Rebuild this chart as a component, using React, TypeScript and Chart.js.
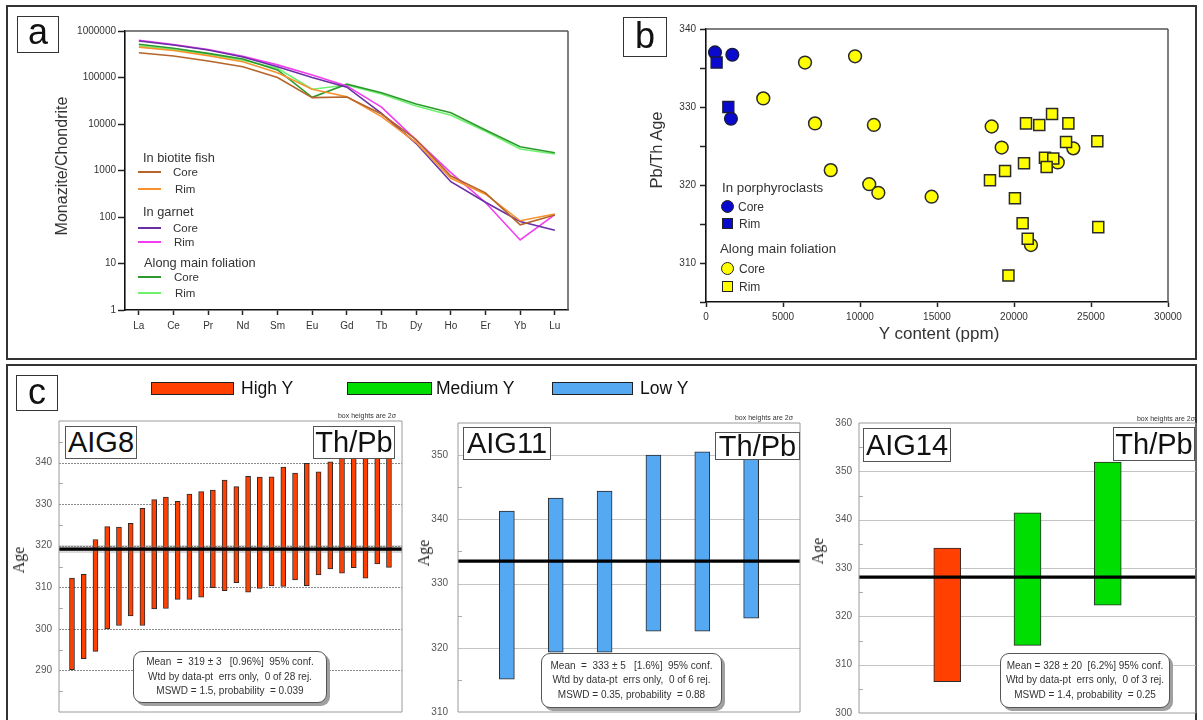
import React, { useEffect, useRef } from 'react';
import { Chart, registerables } from 'chart.js';

Chart.register(...registerables);

const SANS = "'Liberation Sans', Arial, Helvetica, sans-serif";
const SERIF = "'Liberation Serif', 'Times New Roman', serif";

// ---------------- Panel a : REE patterns ----------------
const REE = ['La', 'Ce', 'Pr', 'Nd', 'Sm', 'Eu', 'Gd', 'Tb', 'Dy', 'Ho', 'Er', 'Yb', 'Lu'];
const Y_LOG_TICKS = [1, 10, 100, 1000, 10000, 100000, 1000000];
const BIOTITE_CORE = [340000, 290000, 226000, 170000, 100000, 37000, 38000, 16400, 4600, 760, 330, 68, 110];
const BIOTITE_RIM = [450000, 380000, 295000, 218000, 127000, 56000, 38500, 14400, 4000, 680, 310, 83, 116];
const GARNET_CORE = [610000, 500000, 390000, 275000, 170000, 100000, 62000, 17000, 3800, 575, 207, 80, 52];
const GARNET_RIM = [630000, 510000, 400000, 285000, 187000, 113000, 66000, 23000, 4500, 900, 205, 32, 112];
const FOLIATION_CORE = [520000, 425000, 330000, 250000, 145000, 37500, 72000, 47000, 27000, 17500, 7400, 3240, 2400];
const FOLIATION_RIM = [480000, 400000, 315000, 235000, 158000, 56000, 69000, 44000, 24500, 15500, 7000, 2900, 2260];

// ---------------- Panel b : Pb/Th age vs Y ----------------
const PORPH_CORE_X = [584, 1710, 1620];
const PORPH_CORE_Y = [337.0, 336.7, 328.5];
const PORPH_RIM_X = [690, 1450];
const PORPH_RIM_Y = [335.7, 330.0];
const FOL_CORE_X = [3720, 6430, 9680, 7080, 10900, 8100, 10600, 11190, 14650, 18550, 19200, 23850, 22840, 21100];
const FOL_CORE_Y = [331.1, 335.7, 336.5, 327.9, 327.7, 321.9, 320.1, 319.0, 318.5, 327.5, 324.8, 324.7, 322.9, 312.3];
const FOL_RIM_X = [20780, 21640, 22470, 23530, 23380, 25410, 22010, 22550, 22120, 20650, 19420, 18440, 20060, 20560, 25470, 20890, 19640];
const FOL_RIM_Y = [327.9, 327.7, 329.1, 327.9, 325.5, 325.6, 323.5, 323.4, 322.3, 322.8, 321.8, 320.6, 318.3, 315.1, 314.6, 313.1, 308.4];

// ---------------- Panel c : weighted mean ages ----------------
const AIG8_LOW = [290.2, 292.8, 294.6, 300.0, 300.8, 303.1, 300.8, 304.8, 304.9, 307.1, 307.1, 307.6, 309.9, 309.2, 311.1, 308.8, 309.7, 310.3, 310.2, 311.8, 310.4, 313.0, 314.4, 313.4, 314.7, 312.2, 315.6, 314.8];
const AIG8_HIGH = [312.2, 313.1, 321.5, 324.6, 324.5, 325.4, 329.0, 331.1, 331.7, 330.7, 332.4, 333.0, 333.4, 335.8, 334.2, 336.7, 336.5, 336.6, 338.9, 337.5, 339.8, 337.8, 340.2, 343.0, 345.0, 344.0, 346.0, 345.0];
const AIG8_MEAN = 319.2;
const AIG11_LOW = [315.1, 319.3, 319.3, 322.6, 322.6, 324.6];
const AIG11_HIGH = [341.3, 343.3, 344.4, 350.0, 350.5, 352.0];
const AIG11_MEAN = 333.5;
const AIG14_LOW = [306.5, 314.0, 322.3];
const AIG14_HIGH = [334.1, 341.4, 351.9];
const AIG14_GROUP = ['High Y', 'Medium Y', 'Medium Y'];
const AIG14_MEAN = 328.1;
const GROUP_COLORS: Record<string, string> = { 'High Y': '#FF4000', 'Medium Y': '#00DD00', 'Low Y': '#55A8F2' };

// ---------------- plugins ----------------
const framePlugin = {
  id: 'frame',
  afterDatasetsDraw(chart: any, _a: any, opts: any) {
    if (!opts || !opts.color) return;
    const { left, top, right, bottom } = chart.chartArea;
    const ctx = chart.ctx;
    ctx.save();
    ctx.strokeStyle = opts.color;
    ctx.lineWidth = opts.width || 1;
    ctx.beginPath();
    const sides: string[] = opts.sides || ['top', 'right', 'bottom', 'left'];
    if (sides.includes('top')) { ctx.moveTo(left, top); ctx.lineTo(right, top); }
    if (sides.includes('right')) { ctx.moveTo(right, top); ctx.lineTo(right, bottom); }
    if (sides.includes('bottom')) { ctx.moveTo(left, bottom); ctx.lineTo(right, bottom); }
    if (sides.includes('left')) { ctx.moveTo(left, top); ctx.lineTo(left, bottom); }
    ctx.stroke();
    ctx.restore();
  },
};

const hGridPlugin = {
  id: 'hgrid',
  beforeDatasetsDraw(chart: any, _a: any, opts: any) {
    if (!opts || !opts.values) return;
    const { left, right } = chart.chartArea;
    const ctx = chart.ctx;
    const ys = chart.scales.y;
    ctx.save();
    ctx.strokeStyle = opts.color || '#bbb';
    ctx.lineWidth = 1;
    ctx.setLineDash(opts.dash || []);
    for (const v of opts.values) {
      const y = Math.round(ys.getPixelForValue(v)) + 0.5;
      ctx.beginPath();
      ctx.moveTo(left, y);
      ctx.lineTo(right, y);
      ctx.stroke();
    }
    ctx.setLineDash([]);
    ctx.strokeStyle = opts.minorColor || '#999';
    for (const v of opts.minor || []) {
      const y = Math.round(ys.getPixelForValue(v)) + 0.5;
      ctx.beginPath();
      ctx.moveTo(left, y);
      ctx.lineTo(left + 4, y);
      ctx.stroke();
    }
    ctx.restore();
  },
};

const meanLinePlugin = {
  id: 'meanLine',
  afterDatasetsDraw(chart: any, _a: any, opts: any) {
    if (!opts || opts.value == null) return;
    const { left, right } = chart.chartArea;
    const ctx = chart.ctx;
    const y = chart.scales.y.getPixelForValue(opts.value);
    ctx.save();
    if (opts.halo) {
      ctx.fillStyle = 'rgba(120,120,120,0.28)';
      ctx.fillRect(left, y - 4, right - left, 8);
    }
    ctx.strokeStyle = '#000';
    ctx.lineWidth = opts.width || 3;
    ctx.beginPath();
    ctx.moveTo(left, y);
    ctx.lineTo(right, y);
    ctx.stroke();
    ctx.restore();
  },
};

// ---------------- geometry helper ----------------
type Geo = { cl: number; ct: number; cw: number; ch: number; pl: number; pt: number; pr: number; pb: number };

function ChartCanvas({ geo, make }: { geo: Geo; make: (g: Geo) => any }) {
  const ref = useRef<HTMLCanvasElement>(null);
  useEffect(() => {
    const chart = new Chart(ref.current as HTMLCanvasElement, make(geo));
    return () => chart.destroy();
  }, []);
  return (
    <canvas
      ref={ref}
      width={geo.cw}
      height={geo.ch}
      style={{ position: 'absolute', left: geo.cl, top: geo.ct, width: geo.cw, height: geo.ch }}
    />
  );
}

const GEO_A: Geo = { cl: 8, ct: 8, cw: 590, ch: 345, pl: 125, pt: 31, pr: 568, pb: 310 };
const GEO_B: Geo = { cl: 600, ct: 8, cw: 594, ch: 345, pl: 706, pt: 29, pr: 1168, pb: 302 };
const GEO_C1: Geo = { cl: 9, ct: 368, cw: 400, ch: 372, pl: 59, pt: 421, pr: 402, pb: 712 };
const GEO_C2: Geo = { cl: 410, ct: 368, cw: 395, ch: 372, pl: 458, pt: 423, pr: 800, pb: 712 };
const GEO_C3: Geo = { cl: 808, ct: 368, cw: 392, ch: 372, pl: 859, pt: 423, pr: 1196, pb: 713 };

const tickFont = (size: number) => ({ family: SANS, size });

function makeA(g: Geo) {
  const series = [
    { data: BIOTITE_CORE, color: '#B5652A' },
    { data: BIOTITE_RIM, color: '#F7922E' },
    { data: GARNET_CORE, color: '#6B2FA5' },
    { data: GARNET_RIM, color: '#F23CF2' },
    { data: FOLIATION_CORE, color: '#2E9A2E' },
    { data: FOLIATION_RIM, color: '#6EF26E' },
  ];
  return {
    type: 'line',
    data: {
      datasets: series.map((s) => ({
        data: s.data.map((v, i) => ({ x: i, y: v })),
        borderColor: s.color,
        borderWidth: 1.6,
        pointRadius: 0,
        tension: 0,
        fill: false,
      })),
    },
    options: {
      animation: false,
      responsive: false,
      events: [],
      layout: { padding: { left: 0, top: g.pt - g.ct, right: g.cl + g.cw - g.pr, bottom: 0 } },
      plugins: {
        legend: { display: false },
        tooltip: { enabled: false },
        frame: { color: '#555', width: 1.5, sides: ['top', 'right'] },
      },
      scales: {
        x: {
          type: 'linear',
          min: -0.4,
          max: 12.38,
          offset: false,
          afterFit: (s: any) => { s.height = g.ct + g.ch - g.pb; },
          afterBuildTicks: (s: any) => { s.ticks = REE.map((_, i) => ({ value: i })); },
          ticks: { callback: (v: any) => REE[v], font: tickFont(10), color: '#333', padding: 5, maxRotation: 0, autoSkip: false },
          grid: { drawOnChartArea: false, tickLength: 5, color: '#222', tickWidth: 1.5 },
          border: { color: '#111', width: 1.6 },
        },
        y: {
          type: 'logarithmic',
          min: 1,
          max: 1000000,
          afterFit: (s: any) => { s.width = g.pl - g.cl; },
          afterBuildTicks: (s: any) => { s.ticks = Y_LOG_TICKS.map((v) => ({ value: v })); },
          ticks: { callback: (v: any) => String(v), font: tickFont(10), color: '#333', padding: 2 },
          grid: { drawOnChartArea: false, tickLength: 7, color: '#222', tickWidth: 1.5 },
          border: { color: '#111', width: 1.6 },
        },
      },
    },
    plugins: [framePlugin],
  };
}

const zip = (xs: number[], ys: number[]) => xs.map((x, i) => ({ x, y: ys[i] }));

function makeB(g: Geo) {
  const rect = 7.8;
  const circ = 6.4;
  return {
    type: 'scatter',
    data: {
      datasets: [
        { label: 'Rim (porphyroclasts)', data: zip(PORPH_RIM_X, PORPH_RIM_Y), pointStyle: 'rect', pointRadius: rect, backgroundColor: '#0A0ACF', borderColor: '#1a1a3a', borderWidth: 1.3 },
        { label: 'Core (porphyroclasts)', data: zip(PORPH_CORE_X, PORPH_CORE_Y), pointStyle: 'circle', pointRadius: circ, backgroundColor: '#0A0ACF', borderColor: '#1a1a3a', borderWidth: 1.3 },
        { label: 'Rim (foliation)', data: zip(FOL_RIM_X, FOL_RIM_Y), pointStyle: 'rect', pointRadius: rect, backgroundColor: '#FFFF00', borderColor: '#2a2a2a', borderWidth: 1.5 },
        { label: 'Core (foliation)', data: zip(FOL_CORE_X, FOL_CORE_Y), pointStyle: 'circle', pointRadius: circ, backgroundColor: '#FFFF00', borderColor: '#2a2a2a', borderWidth: 1.5 },
      ],
    },
    options: {
      animation: false,
      responsive: false,
      events: [],
      layout: { padding: { left: 0, top: g.pt - g.ct, right: g.cl + g.cw - g.pr, bottom: 0 } },
      plugins: {
        legend: { display: false },
        tooltip: { enabled: false },
        frame: { color: '#555', width: 1.5, sides: ['top', 'right'] },
      },
      scales: {
        x: {
          type: 'linear',
          min: 0,
          max: 30000,
          afterFit: (s: any) => { s.height = g.ct + g.ch - g.pb; },
          ticks: { stepSize: 5000, callback: (v: any) => String(v), font: tickFont(10), color: '#333', padding: 4, maxRotation: 0 },
          grid: { drawOnChartArea: false, tickLength: 5, color: '#222', tickWidth: 1.5 },
          border: { color: '#111', width: 1.6 },
        },
        y: {
          type: 'linear',
          min: 305,
          max: 340,
          afterFit: (s: any) => { s.width = g.pl - g.cl; },
          ticks: { stepSize: 5, callback: (v: any) => (v % 10 === 0 ? String(v) : ''), font: tickFont(10), color: '#333', padding: 4 },
          grid: { drawOnChartArea: false, tickLength: 6, color: '#222', tickWidth: 1.5 },
          border: { color: '#111', width: 1.6 },
        },
      },
    },
    plugins: [framePlugin],
  };
}

function makeAge(
  lows: number[], highs: number[], colors: string[], xmin: number, xmax: number,
  ymin: number, ymax: number, barW: number, mean: number, shown: number[], dashed: boolean, labelPad: number, halo: boolean,
) {
  return (g: Geo) => {
    const major: number[] = [];
    const minor: number[] = [];
    for (let v = ymin; v <= ymax; v += 5) {
      if (v === ymin || v === ymax) continue;
      if (v % 10 === 0) major.push(v); else minor.push(v);
    }
    return {
      type: 'bar',
      data: {
        datasets: [{
          data: lows.map((lo, i) => ({ x: i + 1, y: [lo, highs[i]] })),
          backgroundColor: colors,
          borderColor: '#2a2a2a',
          borderWidth: 1,
          borderSkipped: false,
          barThickness: barW,
        }],
      },
      options: {
        animation: false,
        responsive: false,
        events: [],
        layout: { padding: { left: 0, top: g.pt - g.ct, right: g.cl + g.cw - g.pr, bottom: g.ct + g.ch - g.pb } },
        plugins: {
          legend: { display: false },
          tooltip: { enabled: false },
          frame: { color: '#9a9a9a', width: 1 },
          hgrid: { values: major, minor, color: dashed ? '#8a8a8a' : '#c4c4c4', dash: dashed ? [2, 1] : [], minorColor: '#aaa' },
          meanLine: { value: mean, width: 3.2, halo },
        },
        scales: {
          x: { type: 'linear', display: false, min: xmin, max: xmax, offset: false },
          y: {
            type: 'linear',
            min: ymin,
            max: ymax,
            afterFit: (s: any) => { s.width = g.pl - g.cl; },
            ticks: { stepSize: 10, callback: (v: any) => (shown.includes(v) ? String(v) : ''), font: tickFont(10), color: '#555', padding: labelPad },
            grid: { display: false, drawTicks: false },
            border: { display: false },
          },
        },
      },
      plugins: [hGridPlugin, meanLinePlugin, framePlugin],
    };
  };
}

const makeC1 = makeAge(AIG8_LOW, AIG8_HIGH, AIG8_LOW.map(() => GROUP_COLORS['High Y']), -0.107, 29.11, 280, 350, 5, AIG8_MEAN, [290, 300, 310, 320, 330, 340], true, 7, true);
const makeC2 = makeAge(AIG11_LOW, AIG11_HIGH, AIG11_LOW.map(() => GROUP_COLORS['Low Y']), 0, 7, 310, 355, 15, AIG11_MEAN, [310, 320, 330, 340, 350], false, 10, false);
const makeC3 = makeAge(AIG14_LOW, AIG14_HIGH, AIG14_GROUP.map((gname) => GROUP_COLORS[gname]), -0.1, 4.1, 300, 360, 27, AIG14_MEAN, [300, 310, 320, 330, 340, 350, 360], false, 7, false);

// ---------------- HTML helpers ----------------
type TxtProps = { x: number; y: number; size: number; children: React.ReactNode; anchor?: 'left' | 'right' | 'center'; family?: string; color?: string; rotate?: boolean };
function Txt({ x, y, size, children, anchor = 'left', family = SANS, color = '#222', rotate = false }: TxtProps) {
  let tf = anchor === 'left' ? 'translate(0,-50%)' : anchor === 'right' ? 'translate(-100%,-50%)' : 'translate(-50%,-50%)';
  if (rotate) tf = 'translate(-50%,-50%) rotate(-90deg)';
  return (
    <div style={{ position: 'absolute', left: x, top: y, transform: tf, fontSize: size, lineHeight: 1, whiteSpace: 'pre', fontFamily: family, color }}>
      {children}
    </div>
  );
}

function Box({ x, y, w, h, size, text, border = '1.5px solid #333', pad = 0 }: { x: number; y: number; w: number; h: number; size: number; text: string; border?: string; pad?: number }) {
  return (
    <div style={{ position: 'absolute', left: x, top: y, width: w, height: h, boxSizing: 'border-box', border, background: '#fff', display: 'flex', alignItems: 'center', justifyContent: 'center', fontFamily: SANS, fontSize: size, lineHeight: 1, color: '#111', paddingBottom: pad }}>
      {text}
    </div>
  );
}

function LegendLine({ x, y, color }: { x: number; y: number; color: string }) {
  return <div style={{ position: 'absolute', left: x, top: y - 1, width: 23, height: 2, background: color }} />;
}

function Marker({ x, y, shape, color }: { x: number; y: number; shape: 'circle' | 'square'; color: string }) {
  const s = shape === 'circle' ? 13 : 11;
  return (
    <div style={{ position: 'absolute', left: x - s / 2, top: y - s / 2, width: s, height: s, boxSizing: 'border-box', border: '1.5px solid #222', background: color, borderRadius: shape === 'circle' ? '50%' : 0 }} />
  );
}

function StatBox({ x, y, w, h, lines }: { x: number; y: number; w: number; h: number; lines: string[] }) {
  return (
    <div style={{ position: 'absolute', left: x, top: y, width: w, height: h, boxSizing: 'border-box', border: '1.5px solid #555', borderRadius: 9, background: '#fff', boxShadow: '3px 3px 0 #a0a0a0', display: 'flex', flexDirection: 'column', justifyContent: 'center', alignItems: 'center', fontFamily: SANS, fontSize: 10, color: '#333', lineHeight: '14.5px', whiteSpace: 'pre' }}>
      {lines.map((l, i) => <div key={i}>{l}</div>)}
    </div>
  );
}

function Swatch({ x, y, w, color }: { x: number; y: number; w: number; color: string }) {
  return <div style={{ position: 'absolute', left: x, top: y, width: w, height: 13, boxSizing: 'border-box', border: '1.5px solid #222', background: color }} />;
}

export default function App() {
  return (
    <div style={{ position: 'absolute', left: 0, top: 0, width: 1203, height: 720, overflow: 'hidden', background: '#fff', fontFamily: SANS }}>
      {/* frames */}
      <div style={{ position: 'absolute', left: 6, top: 5, width: 1191, height: 355, border: '2px solid #333', boxSizing: 'border-box' }} />
      <div style={{ position: 'absolute', left: 6, top: 364, width: 1191, height: 380, border: '2px solid #333', boxSizing: 'border-box' }} />

      <ChartCanvas geo={GEO_A} make={makeA} />
      <ChartCanvas geo={GEO_B} make={makeB} />
      <ChartCanvas geo={GEO_C1} make={makeC1} />
      <ChartCanvas geo={GEO_C2} make={makeC2} />
      <ChartCanvas geo={GEO_C3} make={makeC3} />

      {/* panel a */}
      <Box x={17} y={16} w={42} h={37} size={36} text="a" pad={5} />
      <Txt x={62} y={166} size={16} rotate color="#333">Monazite/Chondrite</Txt>
      <Txt x={143} y={158} size={12.8} color="#333">In biotite fish</Txt>
      <LegendLine x={138} y={172} color="#B5652A" />
      <Txt x={173} y={173} size={11.5} color="#333">Core</Txt>
      <LegendLine x={138} y={189} color="#F7922E" />
      <Txt x={175} y={190} size={11.5} color="#333">Rim</Txt>
      <Txt x={143} y={212} size={12.8} color="#333">In garnet</Txt>
      <LegendLine x={138} y={228} color="#6B2FA5" />
      <Txt x={173} y={229} size={11.5} color="#333">Core</Txt>
      <LegendLine x={138} y={242} color="#F23CF2" />
      <Txt x={174} y={243} size={11.5} color="#333">Rim</Txt>
      <Txt x={144} y={263} size={12.8} color="#333">Along main foliation</Txt>
      <LegendLine x={138} y={277} color="#2E9A2E" />
      <Txt x={174} y={278} size={11.5} color="#333">Core</Txt>
      <LegendLine x={138} y={293} color="#6EF26E" />
      <Txt x={175} y={294} size={11.5} color="#333">Rim</Txt>

      {/* panel b */}
      <Box x={623} y={17} w={44} h={40} size={36} text="b" pad={2} />
      <Txt x={656} y={150} size={16.5} rotate color="#333">Pb/Th Age</Txt>
      <Txt x={939} y={333} size={17} anchor="center" color="#333">Y content (ppm)</Txt>
      <Txt x={722} y={188} size={13.3} color="#333">In porphyroclasts</Txt>
      <Marker x={727} y={206} shape="circle" color="#0A0ACF" />
      <Txt x={738} y={207} size={12} color="#333">Core</Txt>
      <Marker x={727} y={223} shape="square" color="#0A0ACF" />
      <Txt x={739} y={224} size={12} color="#333">Rim</Txt>
      <Txt x={720} y={249} size={13.3} color="#333">Along main foliation</Txt>
      <Marker x={727} y={268} shape="circle" color="#FFFF00" />
      <Txt x={739} y={269} size={12} color="#333">Core</Txt>
      <Marker x={727} y={286} shape="square" color="#FFFF00" />
      <Txt x={739} y={287} size={12} color="#333">Rim</Txt>

      {/* panel c */}
      <Box x={16} y={375} w={42} h={36} size={36} text="c" pad={3} />
      <Swatch x={151} y={382} w={83} color={GROUP_COLORS['High Y']} />
      <Txt x={241} y={389} size={17.5} color="#111">High Y</Txt>
      <Swatch x={347} y={382} w={85} color={GROUP_COLORS['Medium Y']} />
      <Txt x={436} y={389} size={17.5} color="#111">Medium Y</Txt>
      <Swatch x={552} y={382} w={81} color={GROUP_COLORS['Low Y']} />
      <Txt x={640} y={389} size={17.5} color="#111">Low Y</Txt>

      <Txt x={19} y={560} size={16} rotate family={SERIF} color="#222">Age</Txt>
      <Txt x={424} y={553} size={16} rotate family={SERIF} color="#222">Age</Txt>
      <Txt x={818} y={551} size={16} rotate family={SERIF} color="#222">Age</Txt>

      <Txt x={396} y={415} size={7} anchor="right" color="#333">box heights are 2σ</Txt>
      <Txt x={793} y={417} size={7} anchor="right" color="#333">box heights are 2σ</Txt>
      <Txt x={1195} y={418} size={7} anchor="right" color="#333">box heights are 2σ</Txt>

      <Box x={65} y={426} w={72} h={33} size={29} text="AIG8" border="1px solid #555" />
      <Box x={313} y={426} w={82} h={33} size={29} text="Th/Pb" border="1px solid #555" />
      <Box x={463} y={427} w={88} h={33} size={29} text="AIG11" border="1px solid #555" />
      <Box x={715} y={432} w={85} h={28} size={29} text="Th/Pb" border="1px solid #555" />
      <Box x={863} y={428} w={88} h={34} size={29} text="AIG14" border="1px solid #555" />
      <Box x={1113} y={427} w={82} h={34} size={29} text="Th/Pb" border="1px solid #555" />

      <StatBox x={133} y={651} w={194} h={52} lines={['Mean  =  319 ± 3   [0.96%]  95% conf.', 'Wtd by data-pt  errs only,  0 of 28 rej.', 'MSWD = 1.5, probability  = 0.039']} />
      <StatBox x={541} y={653} w={181} h={55} lines={['Mean  =  333 ± 5   [1.6%]  95% conf.', 'Wtd by data-pt  errs only,  0 of 6 rej.', 'MSWD = 0.35, probability  = 0.88']} />
      <StatBox x={1000} y={653} w={170} h={55} lines={['Mean = 328 ± 20  [6.2%] 95% conf.', 'Wtd by data-pt  errs only,  0 of 3 rej.', 'MSWD = 1.4, probability  = 0.25']} />
    </div>
  );
}
